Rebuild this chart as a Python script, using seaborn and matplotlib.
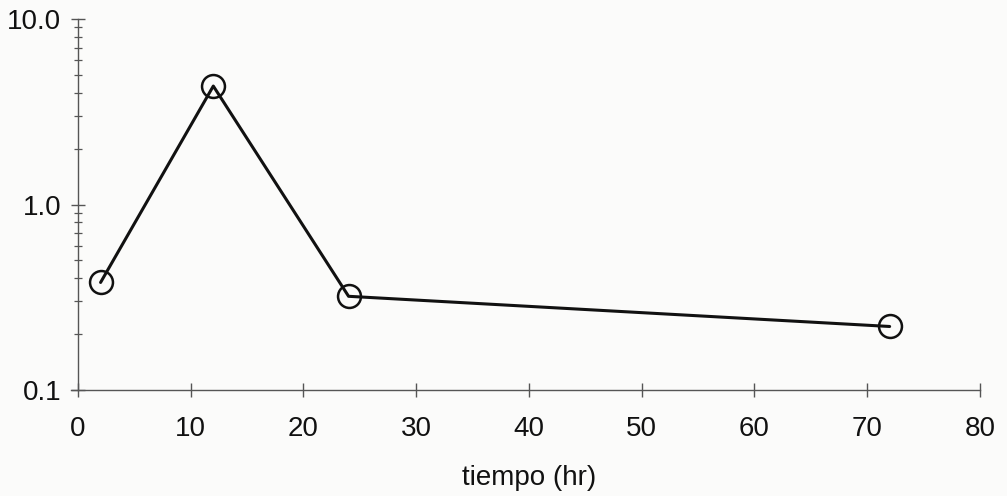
import matplotlib
matplotlib.use("Agg")
import matplotlib.pyplot as plt
import matplotlib.ticker as mticker
import seaborn as sns
import pandas as pd

# Concentration over time (log scale)
tiempo = [2, 12, 24, 72]
concentracion = [0.38, 4.35, 0.32, 0.22]
x_ticks = [0, 10, 20, 30, 40, 50, 60, 70, 80]
y_ticks = [0.1, 1.0, 10.0]
y_labels = ["0.1", "1.0", "10.0"]
x_label = "tiempo (hr)"

sns.set_style("white")
plt.rcParams["font.family"] = ["Liberation Sans", "DejaVu Sans"]

df = pd.DataFrame({"tiempo": tiempo, "conc": concentracion})

fig = plt.figure(figsize=(10.07, 4.96), dpi=100, facecolor="#fbfbfa")
ax = fig.add_axes([0.0775, 0.2137, 0.8955, 0.748])
ax.set_facecolor("#fbfbfa")

sns.lineplot(data=df, x="tiempo", y="conc", ax=ax, color="#111111",
             linewidth=2.2, marker="o", markersize=16.5,
             markerfacecolor="none", markeredgecolor="#111111",
             markeredgewidth=1.8)

ax.set_yscale("log")
ax.set_xlim(0, 80)
ax.set_ylim(0.1, 10.0)
ax.set_xticks(x_ticks)
ax.set_xticklabels([str(t) for t in x_ticks])
ax.yaxis.set_major_locator(mticker.FixedLocator(y_ticks))
ax.yaxis.set_major_formatter(mticker.FixedFormatter(y_labels))
ax.yaxis.set_minor_locator(mticker.LogLocator(base=10, subs=range(2, 10)))
ax.yaxis.set_minor_formatter(mticker.NullFormatter())

for side in ("top", "right"):
    ax.spines[side].set_visible(False)
for side in ("left", "bottom"):
    ax.spines[side].set_color("#555555")
    ax.spines[side].set_linewidth(1.0)
# bottom axis line runs slightly past the left axis
ax.spines["bottom"].set_bounds(-0.6, 80)
ax.spines["bottom"].set_clip_on(False)

ax.tick_params(bottom=True, left=True, which="both")
ax.tick_params(axis="x", which="minor", bottom=False)
ax.tick_params(axis="both", which="major", direction="inout", length=10,
               width=1.0, color="#555555", labelsize=20, labelcolor="#111111")
ax.tick_params(axis="x", which="major", pad=14)
ax.tick_params(axis="y", which="major", pad=7)
ax.tick_params(axis="y", which="minor", direction="inout", length=6,
               width=0.9, color="#555555")

ax.set_xlabel(x_label, fontsize=20, color="#111111", labelpad=16)
ax.set_ylabel("")

fig.savefig("out.png", dpi=100, facecolor=fig.get_facecolor())
